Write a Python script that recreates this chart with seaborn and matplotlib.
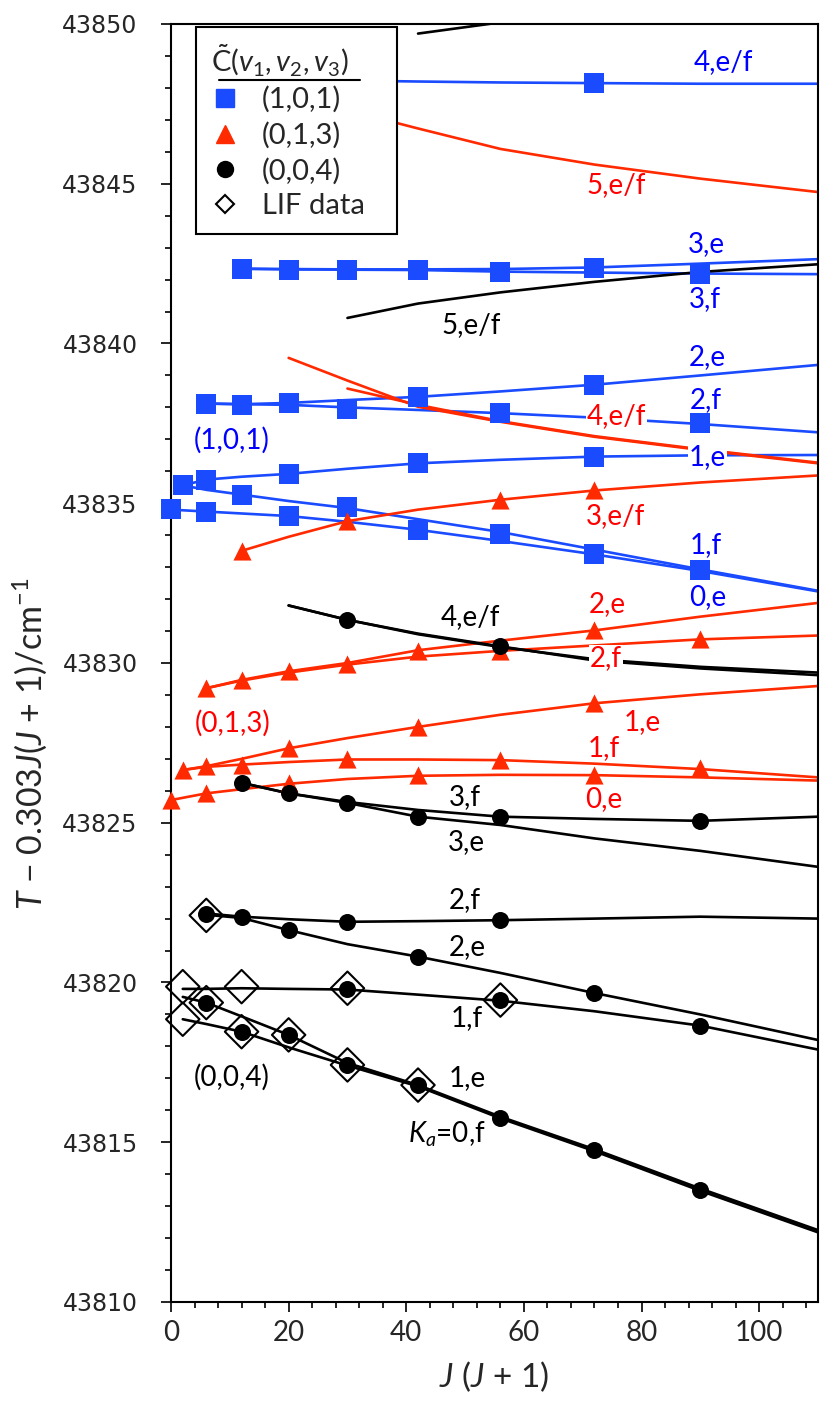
import matplotlib
matplotlib.use("Agg")
import seaborn as sns
import matplotlib.pyplot as plt
from matplotlib.lines import Line2D
from matplotlib.ticker import MultipleLocator, FormatStrFormatter

# J(J+1) grid of the calculated curves; every curve starts at its lowest J and runs to 110
jj = [0, 2, 6, 12, 20, 30, 42, 56, 72, 90, 110]

# (1,0,1) calculated levels
c101_k4ef = [43848.25, 43848.23, 43848.20, 43848.17, 43848.15, 43848.13, 43848.13]
c101_k3e = [43842.34, 43842.33, 43842.32, 43842.32, 43842.33, 43842.38, 43842.50, 43842.64]
c101_k3f = [43842.34, 43842.32, 43842.31, 43842.30, 43842.25, 43842.22, 43842.19, 43842.17]
c101_k2e = [43838.12, 43838.10, 43838.14, 43838.23, 43838.33, 43838.50, 43838.71, 43839.00, 43839.33]
c101_k2f = [43838.12, 43838.10, 43838.08, 43838.00, 43837.92, 43837.82, 43837.68, 43837.48, 43837.22]
c101_k1e = [43835.56, 43835.74, 43835.83, 43835.92, 43836.08, 43836.25, 43836.36, 43836.46, 43836.50, 43836.51]
c101_k1f = [43835.56, 43835.42, 43835.27, 43835.07, 43834.85, 43834.50, 43834.10, 43833.55, 43832.93, 43832.26]
c101_k0e = [43834.80, 43834.78, 43834.74, 43834.68, 43834.60, 43834.42, 43834.17, 43833.82, 43833.40, 43832.88, 43832.24]

# (0,1,3) calculated levels
c013_k5ef = [43847.30, 43846.73, 43846.09, 43845.60, 43845.16, 43844.74]
c013_k4e = [43839.55, 43838.84, 43838.02, 43837.55, 43837.08, 43836.67, 43836.25]
c013_k4f = [43838.59, 43838.08, 43837.57, 43837.10, 43836.69, 43836.27]
c013_k3ef = [43833.51, 43833.95, 43834.44, 43834.80, 43835.11, 43835.40, 43835.65, 43835.87]
c013_k2e = [43829.21, 43829.47, 43829.74, 43830.00, 43830.40, 43830.70, 43831.02, 43831.45, 43831.88]
c013_k2f = [43829.21, 43829.45, 43829.70, 43829.95, 43830.20, 43830.38, 43830.55, 43830.74, 43830.86]
c013_k1e = [43826.65, 43826.77, 43827.00, 43827.33, 43827.65, 43828.00, 43828.38, 43828.74, 43829.02, 43829.28]
c013_k1f = [43826.65, 43826.75, 43826.82, 43826.90, 43826.98, 43826.98, 43826.96, 43826.85, 43826.68, 43826.42]
c013_k0e = [43825.71, 43825.78, 43825.92, 43826.05, 43826.22, 43826.37, 43826.47, 43826.50, 43826.49, 43826.42, 43826.32]

# (0,0,4) calculated levels
c004_k6ef = [43849.70, 43850.05, 43850.45, 43850.90, 43851.40]
c004_k5ef = [43840.80, 43841.25, 43841.60, 43841.93, 43842.24, 43842.48]
c004_k4e = [43831.80, 43831.35, 43830.92, 43830.52, 43830.08, 43829.83, 43829.62]
c004_k4f = [43831.80, 43831.35, 43830.90, 43830.50, 43830.12, 43829.88, 43829.70]
c004_k3f = [43826.25, 43825.92, 43825.65, 43825.40, 43825.19, 43825.12, 43825.06, 43825.19]
c004_k3e = [43826.25, 43825.92, 43825.62, 43825.19, 43824.93, 43824.51, 43824.12, 43823.62]
c004_k2f = [43822.16, 43822.06, 43821.98, 43821.90, 43821.92, 43821.95, 43822.00, 43822.06, 43822.00]
c004_k2e = [43822.12, 43822.02, 43821.64, 43821.20, 43820.81, 43820.30, 43819.67, 43819.00, 43818.20]
c004_k1f = [43819.80, 43819.80, 43819.82, 43819.80, 43819.78, 43819.62, 43819.43, 43819.10, 43818.65, 43817.90]
c004_k1e = [43819.55, 43819.37, 43818.94, 43818.36, 43817.48, 43816.79, 43815.80, 43814.78, 43813.55, 43812.25]
c004_k0f = [43818.85, 43818.70, 43818.46, 43817.97, 43817.40, 43816.75, 43815.75, 43814.72, 43813.48, 43812.18]

# observed levels
obs101_x = [72, 12, 20, 30, 42, 56, 72, 90, 6, 12, 20, 30, 42, 56, 72, 90,
            2, 6, 20, 42, 72, 12, 30, 56, 90, 0, 6, 20, 42, 72]
obs101_y = [43848.15, 43842.34, 43842.31, 43842.31, 43842.31, 43842.24, 43842.36, 43842.19,
            43838.12, 43838.07, 43838.14, 43837.96, 43838.33, 43837.81, 43838.71, 43837.50,
            43835.56, 43835.74, 43835.92, 43836.25, 43836.46, 43835.27, 43834.87, 43834.05, 43832.90,
            43834.81, 43834.73, 43834.60, 43834.17, 43833.40]
obs013_x = [12, 30, 56, 72, 6, 12, 20, 30, 42, 56, 72, 90,
            2, 6, 12, 20, 30, 42, 56, 72, 90, 0, 6, 20, 42, 72]
obs013_y = [43833.51, 43834.44, 43835.11, 43835.40,
            43829.21, 43829.47, 43829.75, 43829.98, 43830.38, 43830.38, 43831.02, 43830.74,
            43826.65, 43826.77, 43826.80, 43827.33, 43826.98, 43828.00, 43826.96, 43828.74, 43826.70,
            43825.71, 43825.92, 43826.23, 43826.49, 43826.49]
obs004_x = [30, 56, 12, 20, 30, 42, 56, 90, 6, 12, 20, 30, 42, 56, 72,
            6, 12, 20, 30, 30, 42, 56, 56, 72, 90, 90]
obs004_y = [43831.35, 43830.52,
            43826.25, 43825.92, 43825.63, 43825.19, 43825.19, 43825.06,
            43822.14, 43822.04, 43821.64, 43821.90, 43820.81, 43821.95, 43819.67,
            43819.37, 43818.46, 43818.36, 43819.80, 43817.42, 43816.79, 43819.45, 43815.77,
            43814.75, 43818.65, 43813.52]
lif_x = [2, 2, 6, 6, 12, 12, 20, 30, 30, 42, 56]
lif_y = [43819.87, 43818.85, 43819.37, 43822.10, 43819.87, 43818.46, 43818.36,
         43819.82, 43817.42, 43816.79, 43819.45]

blue = "#1a4bff"
red = "#ff2a00"
blue_txt = "#0000ff"
red_txt = "#ff0000"

sns.set_style("ticks")
plt.rcParams["font.family"] = ["Lato", "DejaVu Sans"]
plt.rcParams["mathtext.fontset"] = "custom"
plt.rcParams["mathtext.rm"] = "Lato"
plt.rcParams["mathtext.it"] = "Lato:italic"

fig = plt.figure(figsize=(8.3, 14.07), dpi=100)
ax = fig.add_axes([171 / 830, 1 - 1302 / 1407, (818 - 171) / 830, (1302 - 24) / 1407])

curves = [
    (c101_k4ef, blue), (c101_k3e, blue), (c101_k3f, blue), (c101_k2e, blue), (c101_k2f, blue),
    (c101_k1e, blue), (c101_k1f, blue), (c101_k0e, blue),
    (c013_k5ef, red), (c013_k4e, red), (c013_k4f, red), (c013_k3ef, red), (c013_k2e, red),
    (c013_k2f, red), (c013_k1e, red), (c013_k1f, red), (c013_k0e, red),
    (c004_k6ef, "black"), (c004_k5ef, "black"), (c004_k4e, "black"), (c004_k4f, "black"),
    (c004_k3f, "black"), (c004_k3e, "black"), (c004_k2f, "black"), (c004_k2e, "black"),
    (c004_k1f, "black"), (c004_k1e, "black"), (c004_k0f, "black"),
]
for vals, col in curves:
    sns.lineplot(x=jj[-len(vals):], y=vals, color=col, linewidth=1.9, ax=ax, zorder=2)

sns.scatterplot(x=obs101_x, y=obs101_y, marker="s", s=200, color=blue, linewidth=0,
                ax=ax, zorder=3, clip_on=False)
sns.scatterplot(x=obs013_x, y=obs013_y, marker="^", s=170, color=red, linewidth=0,
                ax=ax, zorder=3, clip_on=False)
sns.scatterplot(x=lif_x, y=lif_y, marker="D", s=290, facecolor="none", edgecolor="black",
                linewidth=1.5, ax=ax, zorder=3, clip_on=False)
ax.collections[-1].set_facecolor("none")
ax.collections[-1].set_edgecolor("black")
sns.scatterplot(x=obs004_x, y=obs004_y, marker="o", s=150, color="black", linewidth=0,
                ax=ax, zorder=4, clip_on=False)

ax.set_xlim(0, 110)
ax.set_ylim(43810, 43850)
ax.xaxis.set_major_locator(MultipleLocator(20))
ax.xaxis.set_minor_locator(MultipleLocator(4))
ax.yaxis.set_major_locator(MultipleLocator(5))
ax.yaxis.set_minor_locator(MultipleLocator(1))
ax.yaxis.set_major_formatter(FormatStrFormatter("%d"))
ax.tick_params(axis="both", which="major", direction="out", length=7, width=1.2, color="black")
ax.tick_params(axis="both", which="minor", direction="out", length=4, width=1.2, color="black")
ax.tick_params(axis="y", which="major", labelsize=17, labelfontfamily="DejaVu Sans", pad=17)
ax.tick_params(axis="x", which="major", labelsize=20, pad=6)
for sp in ax.spines.values():
    sp.set_visible(True)
    sp.set_linewidth(1.5)
    sp.set_color("black")

ax.set_xlabel("$J$ ($J$ + 1)", fontsize=24)
ax.xaxis.set_label_coords(0.5, -0.045)
ax.set_ylabel("")
fig.text(30 / 830, 1 - 744 / 1407, "$T$ \u2212 0.303$J$($J$ + 1)/cm$^{-1}$", rotation=90,
         ha="center", va="center", fontsize=24.5)

labels = [
    (94.0, 43848.80, "4,e/f", blue_txt, False), (91.0, 43843.10, "3,e", blue_txt, False),
    (90.7, 43841.40, "3,f", blue_txt, False), (91.2, 43839.57, "2,e", blue_txt, False),
    (90.9, 43838.22, "2,f", blue_txt, False), (91.2, 43836.46, "1,e", blue_txt, True),
    (10.4, 43836.98, "(1,0,1)", blue_txt, False), (90.9, 43833.69, "1,f", blue_txt, False),
    (91.2, 43832.06, "0,e", blue_txt, False),
    (75.7, 43844.95, "5,e/f", red_txt, False), (75.7, 43837.74, "4,e/f", red_txt, True),
    (75.6, 43834.60, "3,e/f", red_txt, False), (74.1, 43831.85, "2,e", red_txt, False),
    (73.9, 43830.14, "2,f", red_txt, True), (10.4, 43828.11, "(0,1,3)", red_txt, False),
    (80.1, 43828.16, "1,e", red_txt, False), (73.5, 43827.33, "1,f", red_txt, False),
    (73.5, 43825.73, "0,e", red_txt, False),
    (51.0, 43840.57, "5,e/f", "black", False), (50.9, 43831.44, "4,e/f", "black", False),
    (50.0, 43825.79, "3,f", "black", False), (50.3, 43824.40, "3,e", "black", False),
    (50.0, 43822.58, "2,f", "black", False), (50.3, 43821.10, "2,e", "black", False),
    (50.3, 43818.90, "1,f", "black", False), (10.4, 43817.03, "(0,0,4)", "black", False),
    (50.3, 43817.00, "1,e", "black", False), (46.9, 43815.25, "$K_a$=0,f", "black", False),
]
for x, y, s, col, boxed in labels:
    kw = {}
    if boxed:
        kw["bbox"] = dict(facecolor="white", edgecolor="none", pad=0.5)
    ax.text(x, y, s, color=col, fontsize=20, ha="center", va="center", zorder=5, **kw)

handles = [
    Line2D([], [], ls="none", marker="s", ms=12.5, color=blue),
    Line2D([], [], ls="none", marker="^", ms=12.5, color=red),
    Line2D([], [], ls="none", marker="o", ms=11.5, color="black"),
    Line2D([], [], ls="none", marker="D", ms=8.7, mfc="white", mec="black", mew=1.5),
]
leg = ax.legend(handles, ["(1,0,1)", "(0,1,3)", "(0,0,4)", "LIF data"],
                title=r"$\tilde{\mathrm{C}}(\mathit{v}_{\mathit{1}},\mathit{v}_{\mathit{2}},\mathit{v}_{\mathit{3}})$",
                loc="upper left", bbox_to_anchor=(0.0386, 0.8354, 0.3106, 0.162), mode="expand",
                borderaxespad=0, frameon=True, fancybox=False,
                edgecolor="black", framealpha=1, fontsize=21, title_fontsize=21,
                handlelength=1.0, handletextpad=0.75, labelspacing=0.3, borderpad=0.5,
                alignment="left")
leg.get_frame().set_linewidth(1.5)
leg.set_zorder(6)

fig.canvas.draw()
bb = leg.get_title().get_window_extent()
inv = fig.transFigure.inverted()
(x0, y0), (x1, _) = inv.transform([(bb.x0 + 8, bb.y0 - 2), (bb.x1 + 12, bb.y0 - 2)])
fig.add_artist(Line2D([x0, x1], [y0, y0], color="black", lw=1.5, zorder=7))

fig.savefig("out.png", dpi=100)
